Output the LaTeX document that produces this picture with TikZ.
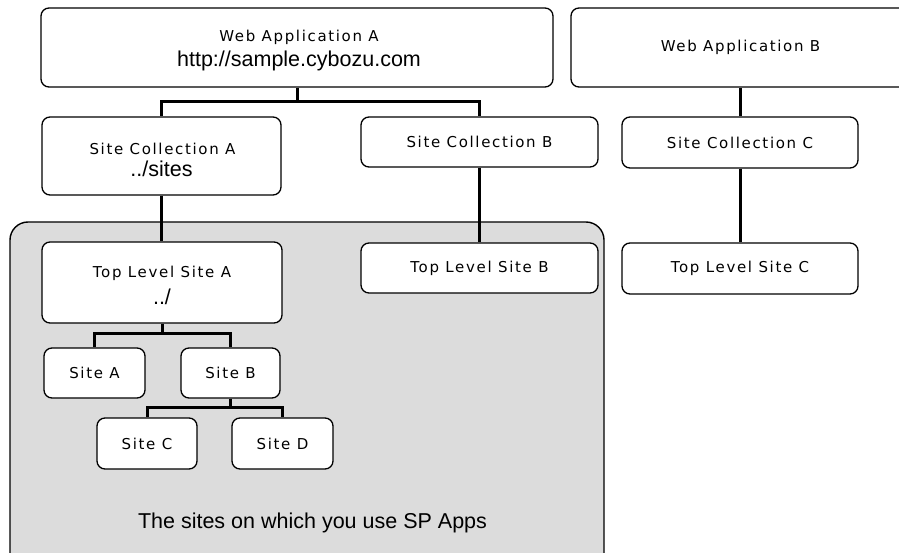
\documentclass[tikz,border=0pt]{standalone}
\usepackage{fontspec}
\setmainfont{Liberation Sans}
\newfontfamily\labfont[LetterSpace=11]{DejaVu Sans}
\definecolor{regiongray}{HTML}{DCDCDC}
\tikzset{
  box/.style={draw=black, line width=1.3pt, fill=white, rounded corners=8pt,
    inner sep=0pt, font=\labfont\fontsize{15}{18}\selectfont},
  conn/.style={draw=black, line width=3pt},
  lbl/.style={inner sep=0pt, anchor=base, font=\labfont\fontsize{15}{18}\selectfont},
  big/.style={inner sep=0pt, anchor=base, font=\fontsize{21.5}{25}\selectfont},
}
\begin{document}
\begin{tikzpicture}[x=1pt,y=-1pt]
\path[use as bounding box, clip] (0,0) rectangle (899,553);
% shaded region
\draw[fill=regiongray, draw=black, line width=1.4pt, rounded corners=18pt] (10,222) rectangle (604,575);
% boxes
\node[box, minimum width=512pt, minimum height=79pt] (wa) at (297,47.5) {};
\node[box, minimum width=339pt, minimum height=79pt] (wb) at (740.5,47.5) {Web Application B};
\node[box, minimum width=239pt, minimum height=78pt] (sca) at (161.5,156) {};
\node[box, minimum width=237pt, minimum height=50pt] (scb) at (479.5,142) {Site Collection B};
\node[box, minimum width=236pt, minimum height=51pt] (scc) at (740,142.5) {Site Collection C};
\node[box, minimum width=240pt, minimum height=81pt] (tlsa) at (162,282.5) {};
\node[box, minimum width=237pt, minimum height=50pt] (tlsb) at (479.5,268) {Top Level Site B};
\node[box, minimum width=236pt, minimum height=51pt] (tlsc) at (740,268.5) {Top Level Site C};
\node[box, minimum width=101pt, minimum height=50pt] (sa) at (94.5,373) {Site A};
\node[box, minimum width=99pt, minimum height=50pt] (sb) at (230.5,373) {Site B};
\node[box, minimum width=100pt, minimum height=51pt] (sc) at (147,443.5) {Site C};
\node[box, minimum width=101pt, minimum height=51pt] (sd) at (282.5,443.5) {Site D};
% two-line box texts
\node[lbl] (watitle) at (299,42) {Web Application A};
\node[big] (waurl) at (299,67) {http://sample.cybozu.com};
\node[lbl] (scatitle) at (162.5,155) {Site Collection A};
\node[big] (scapath) at (161.5,177) {../sites};
\node[lbl] (tlsatitle) at (162,277) {Top Level Site A};
\node[big] (tlsapath) at (162,304) {../};
\node[big] (caption) at (312.5,528) {The sites on which you use SP Apps};
% connectors
\draw[conn] (wa.south) -- ++(0,13.5) coordinate (ja);
\draw[conn] (ja) -| (sca.north);
\draw[conn] (ja) -| (scb.north);
\draw[conn] (scc.north) -- (scc.north |- wb.south);
\draw[conn] (sca.south) -- (sca.south |- tlsa.north);
\draw[conn] (scb.south) -- (tlsb.north);
\draw[conn] (scc.south) -- (tlsc.north);
\draw[conn] (tlsa.south) -- ++(0,10) coordinate (jb);
\draw[conn] (jb) -| (sa.north);
\draw[conn] (jb) -| (sb.north);
\draw[conn] (sb.south) -- ++(0,9) coordinate (jc);
\draw[conn] (jc) -| (sc.north);
\draw[conn] (jc) -| (sd.north);
\end{tikzpicture}
\end{document}
